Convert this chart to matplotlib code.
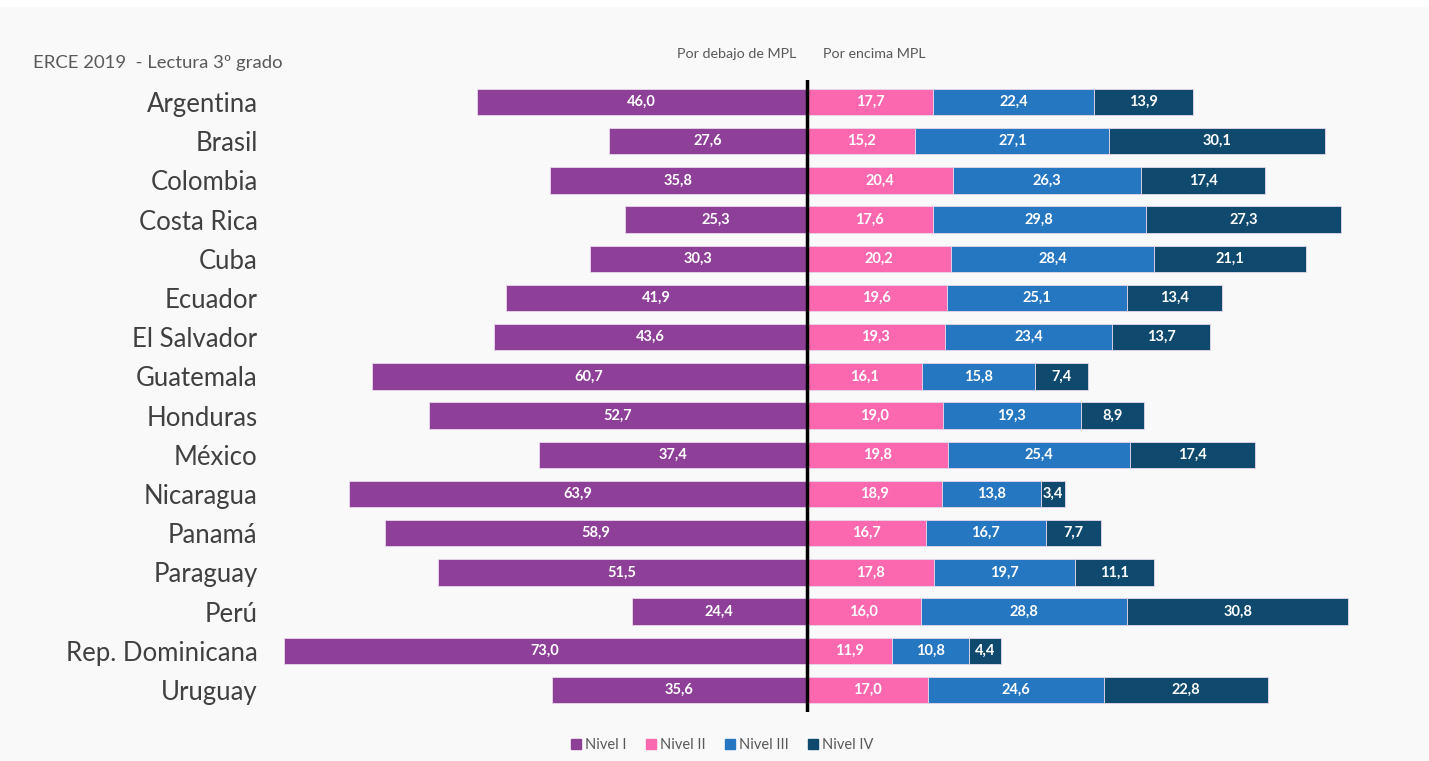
import matplotlib
matplotlib.use("Agg")
import matplotlib.pyplot as plt
from matplotlib.lines import Line2D
from matplotlib.patches import Rectangle
import numpy as np

countries = ["Argentina", "Brasil", "Colombia", "Costa Rica", "Cuba", "Ecuador",
             "El Salvador", "Guatemala", "Honduras", "México", "Nicaragua", "Panamá",
             "Paraguay", "Perú", "Rep. Dominicana", "Uruguay"]
nivel1 = [46.0, 27.6, 35.8, 25.3, 30.3, 41.9, 43.6, 60.7, 52.7, 37.4, 63.9, 58.9, 51.5, 24.4, 73.0, 35.6]
nivel2 = [17.7, 15.2, 20.4, 17.6, 20.2, 19.6, 19.3, 16.1, 19.0, 19.8, 18.9, 16.7, 17.8, 16.0, 11.9, 17.0]
nivel3 = [22.4, 27.1, 26.3, 29.8, 28.4, 25.1, 23.4, 15.8, 19.3, 25.4, 13.8, 16.7, 19.7, 28.8, 10.8, 24.6]
nivel4 = [13.9, 30.1, 17.4, 27.3, 21.1, 13.4, 13.7, 7.4, 8.9, 17.4, 3.4, 7.7, 11.1, 30.8, 4.4, 22.8]
series_names = ["Nivel I", "Nivel II", "Nivel III", "Nivel IV"]
colors = ["#8e4098", "#fc68b0", "#2577c1", "#0f4a6e"]

plt.rcParams['font.family'] = ['Lato', 'DejaVu Sans']

W, H = 1429, 761
fig = plt.figure(figsize=(W/100, H/100), dpi=100, facecolor="#f9f9f9")
fig.patches.append(Rectangle((0, 1-7/H), 1, 7/H, transform=fig.transFigure,
                             facecolor="white", edgecolor="none", zorder=0))

ax = fig.add_axes([270/W, 1-712/H, (1400-270)/W, (712-80)/H])
ax.set_facecolor("none")

y = np.arange(len(countries))
h = 0.67
n1 = np.array(nivel1); n2 = np.array(nivel2); n3 = np.array(nivel3); n4 = np.array(nivel4)
edge = dict(edgecolor="#e8d8ea", linewidth=0.6)

ax.barh(y, -n1, height=h, color=colors[0], **edge)
ax.barh(y, n2, height=h, color=colors[1], **edge)
ax.barh(y, n3, left=n2, height=h, color=colors[2], **edge)
ax.barh(y, n4, left=n2+n3, height=h, color=colors[3], **edge)

lefts = [-n1, np.zeros_like(n2), n2, n2+n3]
vals = [n1, n2, n3, n4]
for li, vi in zip(lefts, vals):
    for yi, l, v in zip(y, li, vi):
        ax.text(l + v/2, yi, f"{v:.1f}".replace(".", ","), ha="center", va="center",
                color="white", fontsize=10.5, fontweight="bold")

ax.axvline(0, color="black", linewidth=2.5, ymin=0, ymax=1)

px = 7.16
c0 = 806.5
ax.set_xlim(-(c0-270)/px, (1400-c0)/px)
ax.set_ylim(15 + (712-690)/39.2, -(102-80)/39.2)
ax.set_yticks(y)
ax.set_yticklabels(countries, fontsize=18.5, color="#404040")
ax.tick_params(axis="y", length=0, pad=9)
ax.set_xticks([])
for s in ax.spines.values():
    s.set_visible(False)

fig.text(33/W, 1-63/H, "ERCE 2019  - Lectura 3º grado", fontsize=13.3, color="#595959",
         ha="left", va="center")
fig.text(796/W, 1-54/H, "Por debajo de MPL", fontsize=10.3, color="#595959", ha="right", va="center")
fig.text(823/W, 1-54/H, "Por encima MPL", fontsize=10.3, color="#595959", ha="left", va="center")

handles = [Line2D([], [], marker="s", linestyle="none", markersize=7, color=c) for c in colors]
fig.legend(handles, series_names, loc="center", bbox_to_anchor=(721/W, 1-745/H), ncol=4,
           frameon=False, fontsize=10.5, labelcolor="#595959", handletextpad=0.1,
           columnspacing=1.2, handlelength=1.0)

fig.savefig("out.png", dpi=100, facecolor=fig.get_facecolor())
